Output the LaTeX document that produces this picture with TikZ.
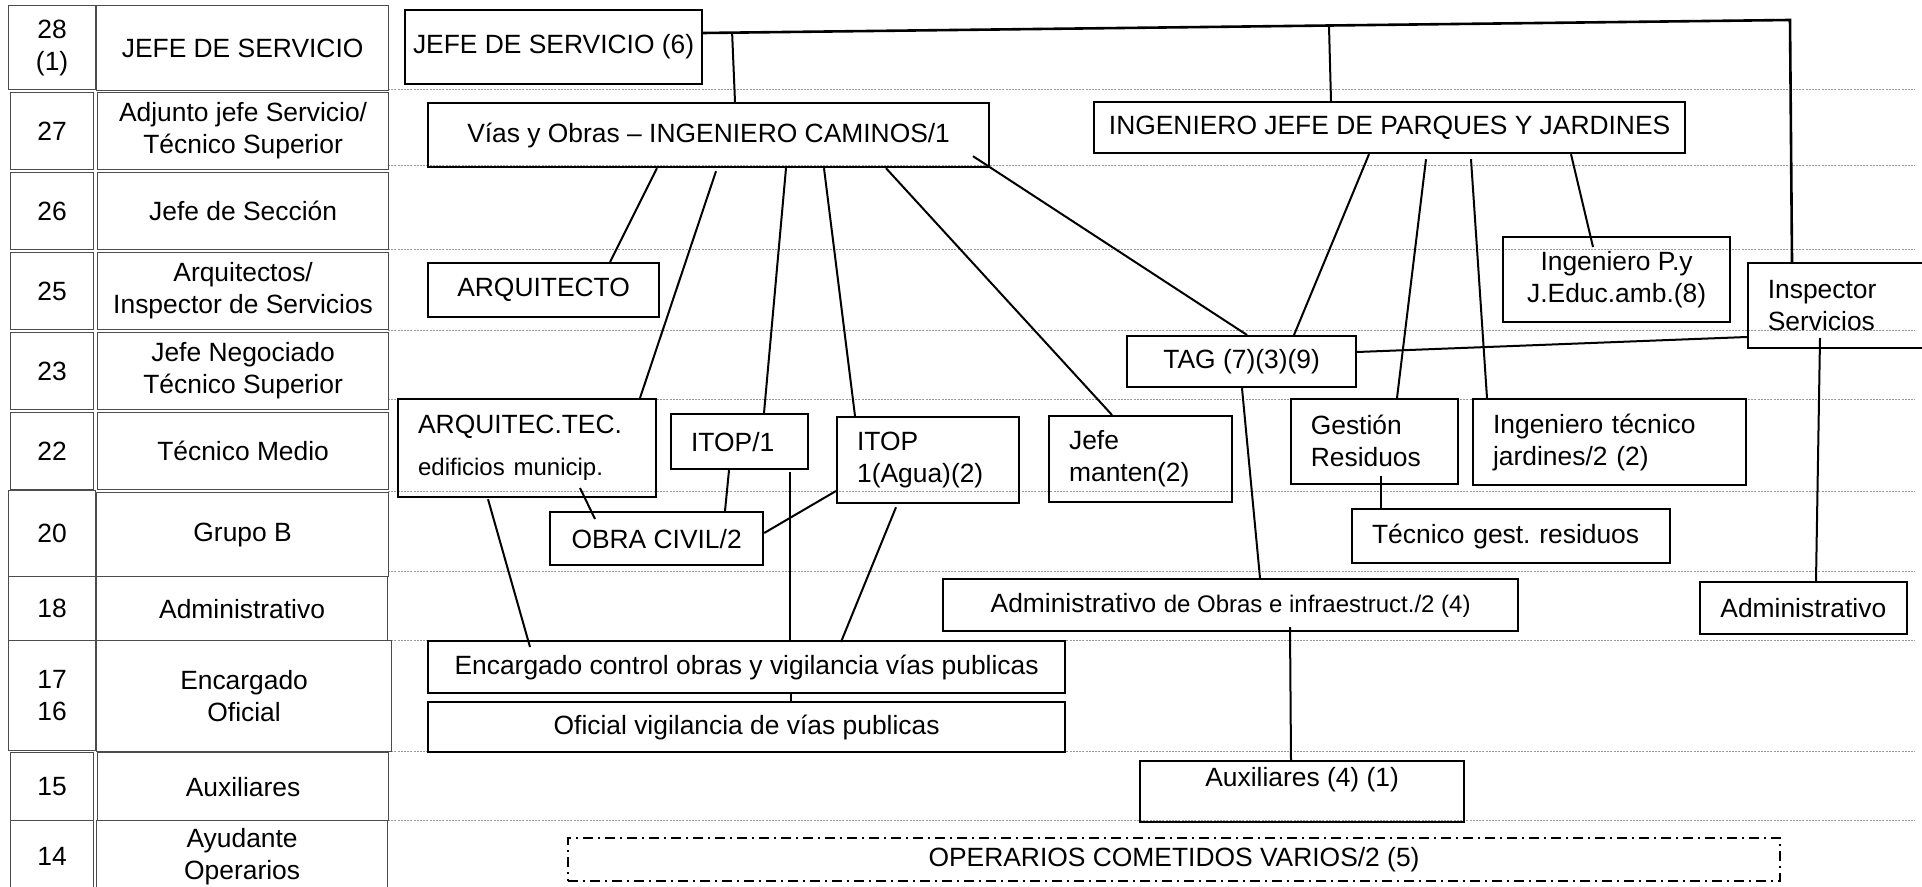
\documentclass[tikz,border=0pt]{standalone}
\usepackage{fontspec}
\setmainfont{Liberation Sans}
\usetikzlibrary{calc}
\frenchspacing
\newcommand\fsz{\fontsize{13.2}{16}\selectfont}
\newcommand\fsm{\fontsize{12}{14}\selectfont}
\begin{document}
\begin{tikzpicture}[x=0.5pt,y=-0.5pt,
  box/.style={draw,line width=1.1pt,anchor=north west,inner sep=0pt,align=center,font=\fsz},
  lbox/.style={box,align=left,inner xsep=10pt},
  thin/.style={line width=0.8pt},
  cell/.style={draw=black!70,line width=0.6pt,anchor=north west,inner sep=0pt,align=center,font=\fsz},
  link/.style={line width=1pt},
  guide/.style={draw=gray!80,line width=0.5pt,dash pattern=on 1pt off 0.6pt},
  dashdot/.style={draw,line width=1pt,dash pattern=on 5pt off 2.5pt on 1pt off 2.5pt}]
\useasboundingbox (0,0) rectangle (1922,887);

% guide lines
\foreach \yy in {90,166,250,331,400,491,571,640,751,820}
  \draw[guide] (388,\yy) -- (1915,\yy);

% left table
\node[cell,minimum width=43.5pt,minimum height=42pt] (n28) at (8,5) {28\\(1)};
\node[cell,minimum width=146pt,minimum height=42.5pt] (t28) at (96,5) {JEFE DE SERVICIO};
\node[cell,minimum width=41.5pt,minimum height=38.5pt] (n27) at (10,92) {27};
\node[cell,minimum width=145.5pt,minimum height=38.5pt] (t27) at (97,92) {Adjunto jefe Servicio/\\Técnico Superior};
\node[cell,minimum width=41.5pt,minimum height=38.5pt] (n26) at (10,172) {26};
\node[cell,minimum width=145.5pt,minimum height=38.5pt] (t26) at (97,172) {Jefe de Sección};
\node[cell,minimum width=41.5pt,minimum height=38.5pt] (n25) at (10,252) {25};
\node[cell,minimum width=145.5pt,minimum height=38.5pt] (t25) at (97,252) {Arquitectos/\\Inspector de Servicios};
\node[cell,minimum width=41.5pt,minimum height=38.5pt] (n23) at (10,332) {23};
\node[cell,minimum width=145.5pt,minimum height=38.5pt] (t23) at (97,332) {Jefe Negociado\\Técnico Superior};
\node[cell,minimum width=41.5pt,minimum height=38.5pt] (n22) at (10,412) {22};
\node[cell,minimum width=145.5pt,minimum height=38.5pt] (t22) at (97,412) {Técnico Medio};
\node[cell,minimum width=43.5pt,minimum height=43pt] (n20) at (8,490) {20};
\node[cell,minimum width=146pt,minimum height=42pt] (t20) at (96,492) {Grupo B};
\node[cell,minimum width=43.5pt,minimum height=32pt] (n18) at (8,576) {18};
\node[cell,minimum width=145.5pt,minimum height=32pt] (t18) at (96,576) {Administrativo};
\node[cell,minimum width=43.5pt,minimum height=55pt] (n17) at (8,640) {17\\16};
\node[cell,minimum width=147.5pt,minimum height=55.5pt] (t17) at (96,640) {Encargado\\Oficial};
\node[cell,minimum width=41.5pt,minimum height=34pt] (n15) at (10,752) {15};
\node[cell,minimum width=145.5pt,minimum height=34pt] (t15) at (97,752) {Auxiliares};
\node[cell,minimum width=41.5pt,minimum height=36pt] (n14) at (10,820) {14};
\node[cell,minimum width=145.5pt,minimum height=36pt] (t14) at (96,820) {Ayudante\\Operarios};

% organisation boxes
\node[box,minimum width=148.5pt,minimum height=37pt] (jefe6) at (404,9) {JEFE DE SERVICIO (6)};
\node[box,minimum width=280.5pt,minimum height=32pt] (vias) at (427,102) {Vías y Obras -- INGENIERO CAMINOS/1};
\node[box,minimum width=295.5pt,minimum height=25.5pt] (ingjefe) at (1093,101) {INGENIERO JEFE DE PARQUES Y JARDINES};
\node[box,minimum width=115.5pt,minimum height=27pt] (arq) at (427,262) {ARQUITECTO};
\node[lbox,text width=109pt,minimum width=129pt,minimum height=49pt] (arqtec) at (397,398) {ARQUITEC.TEC.\\[5pt]{\fsm edificios municip.}};
\node[lbox,text width=48.5pt,minimum width=68.5pt,minimum height=27.5pt] (itop1) at (670,413) {ITOP/1};
\node[lbox,text width=71pt,minimum width=91pt,minimum height=43pt] (itopagua) at (836,416) {ITOP\\1(Agua)(2)};
\node[lbox,text width=71.5pt,minimum width=91.5pt,minimum height=43pt] (jefemant) at (1048,415) {Jefe\\manten(2)};
\node[lbox,thin,text width=63.5pt,minimum width=83.5pt,minimum height=42.5pt] (gestion) at (1290,398) {Gestión\\Residuos};
\node[lbox,text width=116.5pt,minimum width=136.5pt,minimum height=43pt] (ingtec) at (1472,398) {Ingeniero técnico\\jardines/2 (2)};
\node[lbox,text width=139pt,minimum width=159pt,minimum height=27pt] (tecgest) at (1351,508) {Técnico gest. residuos};
\node[box,minimum width=114.5pt,minimum height=25.5pt] (tag) at (1126,335) {TAG (7)(3)(9)};
\node[box,minimum width=106.5pt,minimum height=26.5pt] (obracivil) at (549,511) {OBRA CIVIL/2};
\node[box,minimum width=113.5pt,minimum height=42.5pt] (ingpy) at (1502,236) {Ingeniero P.y\\J.Educ.amb.(8)};
\node[lbox,thin,text width=74pt,minimum width=94pt,minimum height=42.5pt] (insp) at (1747,262) {Inspector\\Servicios};
\node[box,minimum width=287.5pt,minimum height=26pt] (admobras) at (942,578) {Administrativo {\fsm de Obras e infraestruct./2 (4)}};
\node[box,thin,minimum width=103.5pt,minimum height=26pt] (adminr) at (1699,581) {Administrativo};
\node[box,minimum width=318.5pt,minimum height=26pt] (encargado) at (427,640) {Encargado control obras y vigilancia vías publicas};
\node[box,minimum width=318.5pt,minimum height=25pt] (oficial) at (427,701) {Oficial vigilancia de vías publicas};
\node[box,minimum width=162pt,minimum height=30.5pt,
  label={[font=\fsz,anchor=north,inner sep=0pt,yshift=-3.5pt]north:Auxiliares (4) (1)}] (aux) at (1139,760) {};
\node[box,dashdot,minimum width=606pt,minimum height=21.5pt] (operarios) at (567,837) {OPERARIOS COMETIDOS VARIOS/2 (5)};

% connectors
\coordinate (topR) at (1790,20);
\coordinate (j6r) at ($(jefe6.north east)+(0,24)$);
\draw[link,line width=1.3pt] (j6r) -- (topR) -- ($(insp.north west)+(45,0)$);
\draw[link] ($(j6r)!0.0266!(topR)$) -- ($(vias.north west)+(308,0)$);
\draw[link] ($(j6r)!0.5758!(topR)$) -- ($(ingjefe.north west)+(238,0)$);

\draw[link] ($(vias.south west)+(230,0)$) -- ($(arq.north west)+(183,0)$);
\draw[link] ($(vias.south west)+(289,3)$) -- ($(arqtec.north west)+(243,0)$);
\draw[link] ($(vias.south west)+(359,0)$) -- ($(itop1.north west)+(94,0)$);
\draw[link] ($(vias.south west)+(397,0)$) -- ($(itopagua.north west)+(19,0)$);
\draw[link] ($(vias.south west)+(459,0)$) -- ($(jefemant.north west)+(64,0)$);
\draw[link] ($(vias.south west)+(546,-12)$) -- ($(tag.north west)+(121,0)$);

\draw[link] ($(ingjefe.south west)+(276,0)$) -- ($(tag.north west)+(168,0)$);
\draw[link] ($(ingjefe.south west)+(333,5)$) -- ($(gestion.north west)+(107,0)$);
\draw[link] ($(ingjefe.south west)+(378,5)$) -- ($(ingtec.north west)+(15,0)$);
\draw[link] ($(ingjefe.south west)+(478,0)$) -- ($(ingpy.north west)+(91,11)$);

\draw[link] ($(tag.north east)+(0,17)$) -- ($(insp.north west)+(0,75)$);
\draw[link] ($(insp.north west)+(73,76)$) -- ($(adminr.north west)+(117,0)$);
\draw[link] ($(tag.south west)+(116,0)$) -- ($(admobras.north west)+(318,0)$);
\draw[link] ($(admobras.south west)+(348,-5)$) -- ($(aux.north west)+(152,0)$);
\draw[link] ($(gestion.south west)+(91,-9)$) -- ($(tecgest.north west)+(30,0)$);

\draw[link] ($(arqtec.north west)+(183,90)$) -- ($(obracivil.north west)+(46,8)$);
\draw[link] ($(itop1.south west)+(59,0)$) -- ($(obracivil.north west)+(176,0)$);
\draw[link] ($(obracivil.north east)+(0,22)$) -- ($(itopagua.north west)+(0,75)$);
\draw[link] ($(itop1.south west)+(120,2)$) -- ($(encargado.north west)+(363,0)$);
\draw[link] ($(arqtec.south west)+(91,1)$) -- ($(encargado.north west)+(103,7)$);
\draw[link] ($(itopagua.south west)+(60,3)$) -- ($(encargado.north west)+(414,2)$);
\draw[link] ($(encargado.south west)+(364,0)$) -- ($(oficial.north west)+(364,0)$);
\end{tikzpicture}
\end{document}
